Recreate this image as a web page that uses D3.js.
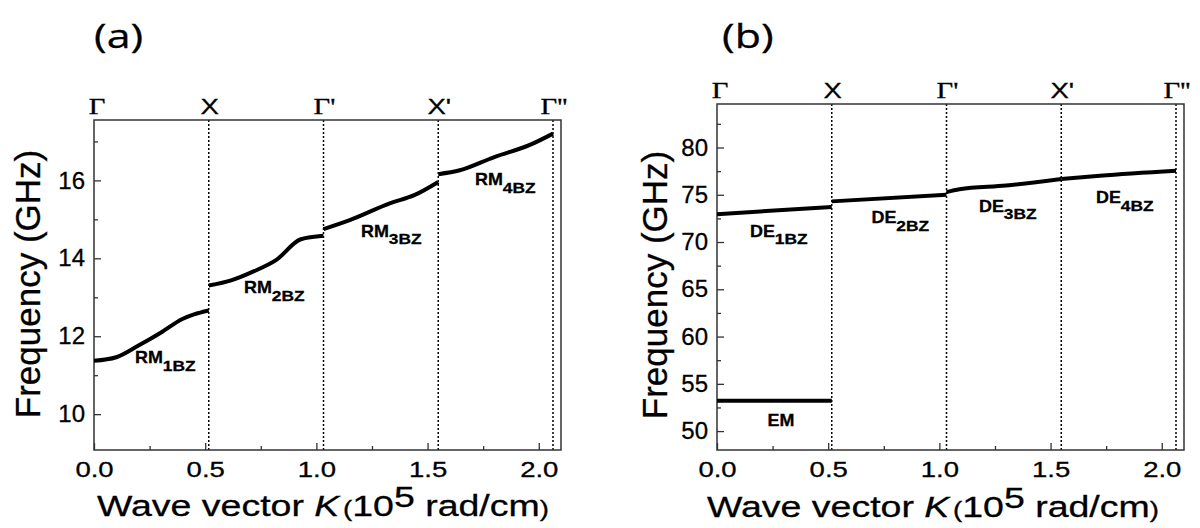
<!DOCTYPE html>
<html>
<head>
<meta charset="utf-8">
<script src="https://cdn.jsdelivr.net/npm/d3@7"></script>
<style>
  html, body { margin: 0; padding: 0; background: #fff; }
  svg { display: block; }
  text { font-family: "Liberation Sans", Arial, sans-serif; fill: #000; stroke: #000; stroke-width: 0.3px; }
</style>
</head>
<body>
<svg id="chart" width="1200" height="528"></svg>
<script>
// ---- data ----
const kMajorTicks = [0, 0.5, 1.0, 1.5, 2.0];
const kMinorTicks = [0.25, 0.75, 1.25, 1.75];
const kDomain = [0, 2.1];

// Brillouin-zone boundaries (10^5 rad/cm) and their symmetry-point names
const zoneK = [0, 0.516, 1.032, 1.548, 2.064];
const zoneNames = ["\u0393", "X", "\u0393'", "X'", "\u0393''"];

// (a) Rayleigh mode, one branch per zone: [k, f (GHz)]
const rm1 = [[0, 11.37], [0.1, 11.46], [0.2, 11.76], [0.3, 12.09], [0.4, 12.45], [0.45, 12.56], [0.516, 12.66]];
const rm2 = [[0.516, 13.30], [0.62, 13.44], [0.72, 13.67], [0.82, 13.96], [0.93, 14.49], [1.032, 14.58]];
const rm3 = [[1.032, 14.75], [1.15, 14.98], [1.33, 15.41], [1.44, 15.62], [1.548, 15.96]];
const rm4 = [[1.548, 16.16], [1.645, 16.26], [1.80, 16.60], [1.96, 16.91], [2.064, 17.20]];
const freqTicksA = [10, 12, 14, 16];
const freqMinorA = [11, 13, 15, 17];
const freqDomainA = [9.08, 17.55];

// (b) Damon-Eshbach branches and the electromagnetic mode
const de1 = [[0, 72.95], [0.516, 73.70]];
const de2 = [[0.516, 74.30], [1.032, 75.00]];
const de3 = [[1.032, 75.28], [1.09, 75.58], [1.30, 75.97], [1.548, 76.66]];
const de4 = [[1.548, 76.66], [1.722, 77.01], [2.064, 77.54]];
const em = [[0, 53.2], [0.516, 53.2]];
const freqTicksB = [50, 55, 60, 65, 70, 75, 80];
const freqMinorB = [52.5, 57.5, 62.5, 67.5, 72.5, 77.5, 82.5];
const freqDomainB = [48, 84.6];

// ---- drawing ----
const svg = d3.select("#chart");
const SX = 1.25; // horizontal stretch of the label glyphs

function stretchedText(parent, x, y, sx) {
  return parent.append("g")
    .attr("transform", `translate(${x},${y}) scale(${sx},1)`)
    .append("text");
}

function drawPanel(cfg) {
  const x = d3.scaleLinear().domain(kDomain).range([cfg.left, cfg.right]);
  const y = d3.scaleLinear().domain(cfg.fDomain).range([cfg.bottom, cfg.top]);
  const g = svg.append("g");

  // zone boundary dotted lines
  g.selectAll("line.zone").data(zoneK.slice(1)).join("line")
    .attr("class", "zone")
    .attr("x1", d => x(d)).attr("x2", d => x(d))
    .attr("y1", cfg.top).attr("y2", cfg.bottom)
    .attr("stroke", "#000").attr("stroke-width", 1.5)
    .attr("stroke-dasharray", "2,2");

  // axes
  const axisColor = "#333";
  const xAxis = g.append("g").attr("transform", `translate(0,${cfg.bottom})`)
    .call(d3.axisBottom(x).tickValues(kMajorTicks).tickSizeInner(-7).tickSizeOuter(0)
      .tickPadding(11).tickFormat(d3.format(".1f")));
  xAxis.selectAll("text").attr("font-size", 22).attr("transform", `scale(${SX},1)`)
    .attr("fill", "#000");
  g.append("g").attr("transform", `translate(0,${cfg.bottom})`)
    .call(d3.axisBottom(x).tickValues(kMinorTicks).tickSizeInner(-4).tickSizeOuter(0).tickFormat(""));

  const yAxis = g.append("g").attr("transform", `translate(${cfg.left},0)`)
    .call(d3.axisLeft(y).tickValues(cfg.fTicks).tickSizeInner(-7).tickSizeOuter(0).tickPadding(9));
  yAxis.selectAll("text").attr("font-size", 24).attr("fill", "#000");
  g.append("g").attr("transform", `translate(${cfg.left},0)`)
    .call(d3.axisLeft(y).tickValues(cfg.fMinor).tickSizeInner(-4).tickSizeOuter(0).tickFormat(""));

  g.selectAll(".domain").remove();
  g.selectAll(".tick line").attr("stroke", axisColor).attr("stroke-width", 1.3);

  // frame
  g.append("rect")
    .attr("x", cfg.left).attr("y", cfg.top)
    .attr("width", cfg.right - cfg.left).attr("height", cfg.bottom - cfg.top)
    .attr("fill", "none").attr("stroke", axisColor).attr("stroke-width", 1.5);

  // symmetry-point names above the frame
  zoneK.forEach((k, i) => {
    const name = zoneNames[i];
    const serif = name.startsWith("\u0393");
    stretchedText(g, x(k) + (i === 0 ? 3 : 1), cfg.top - 6, SX)
      .attr("text-anchor", "middle")
      .attr("font-size", serif ? 23 : 22)
      .style("font-family", serif ? '"Liberation Serif", "Times New Roman", serif' : null)
      .text(name);
  });

  // dispersion branches
  const line = d3.line().x(d => x(d[0])).y(d => y(d[1])).curve(d3.curveMonotoneX);
  cfg.branches.forEach(b => {
    g.append("path").datum(b)
      .attr("d", line)
      .attr("fill", "none").attr("stroke", "#000").attr("stroke-width", 4)
      .attr("stroke-linejoin", "round");
  });

  // branch labels
  cfg.labels.forEach(l => {
    const t = stretchedText(g, l.x, l.y, 1.12)
      .attr("font-size", 16).attr("font-weight", "bold")
      .attr("text-anchor", l.anchor || "start");
    t.append("tspan").text(l.main);
    if (l.sub) t.append("tspan").attr("dy", 7.5).attr("font-size", 15.5).text(l.sub);
  });

  // y label
  svg.append("text")
    .attr("transform", `translate(${cfg.yLabelX},${cfg.yLabelY}) rotate(-90)`)
    .attr("text-anchor", "middle").attr("font-size", 35)
    .text("Frequency (GHz)");

  // x label
  const xl = stretchedText(svg, cfg.xLabelX, cfg.xLabelY, SX).attr("font-size", 30);
  xl.append("tspan").text("Wave vector ");
  xl.append("tspan").attr("font-style", "italic").text("K");
  xl.append("tspan").attr("font-size", 22).attr("dx", 3).text("(");
  xl.append("tspan").text("10");
  xl.append("tspan").attr("dy", -9).text("5");
  xl.append("tspan").attr("dy", 9).text(" rad/cm");
  xl.append("tspan").attr("font-size", 22).text(")");

  // panel title
  stretchedText(svg, cfg.titleX, 48, 1.3)
    .attr("font-size", 33)
    .style("font-family", '"Open Sans", "Noto Sans", sans-serif')
    .text(cfg.title);
}

drawPanel({
  left: 94, right: 561, top: 120, bottom: 450,
  fDomain: freqDomainA, fTicks: freqTicksA, fMinor: freqMinorA,
  branches: [rm1, rm2, rm3, rm4],
  labels: [
    { x: 135, y: 363, main: "RM", sub: "1BZ" },
    { x: 244, y: 293, main: "RM", sub: "2BZ" },
    { x: 361, y: 236.5, main: "RM", sub: "3BZ" },
    { x: 475, y: 185, main: "RM", sub: "4BZ" }
  ],
  yLabelX: 40, yLabelY: 284,
  xLabelX: 97, xLabelY: 515.5,
  title: "(a)", titleX: 94
});

drawPanel({
  left: 717, right: 1184, top: 104, bottom: 450,
  fDomain: freqDomainB, fTicks: freqTicksB, fMinor: freqMinorB,
  branches: [de1, de2, de3, de4, em],
  labels: [
    { x: 750, y: 236.5, main: "DE", sub: "1BZ" },
    { x: 871.5, y: 223.3, main: "DE", sub: "2BZ" },
    { x: 979, y: 211.7, main: "DE", sub: "3BZ" },
    { x: 1096, y: 203.3, main: "DE", sub: "4BZ" },
    { x: 781, y: 425.5, main: "EM", anchor: "middle" }
  ],
  yLabelX: 667, yLabelY: 285,
  xLabelX: 707, xLabelY: 517,
  title: "(b)", titleX: 722
});
</script>
</body>
</html>
